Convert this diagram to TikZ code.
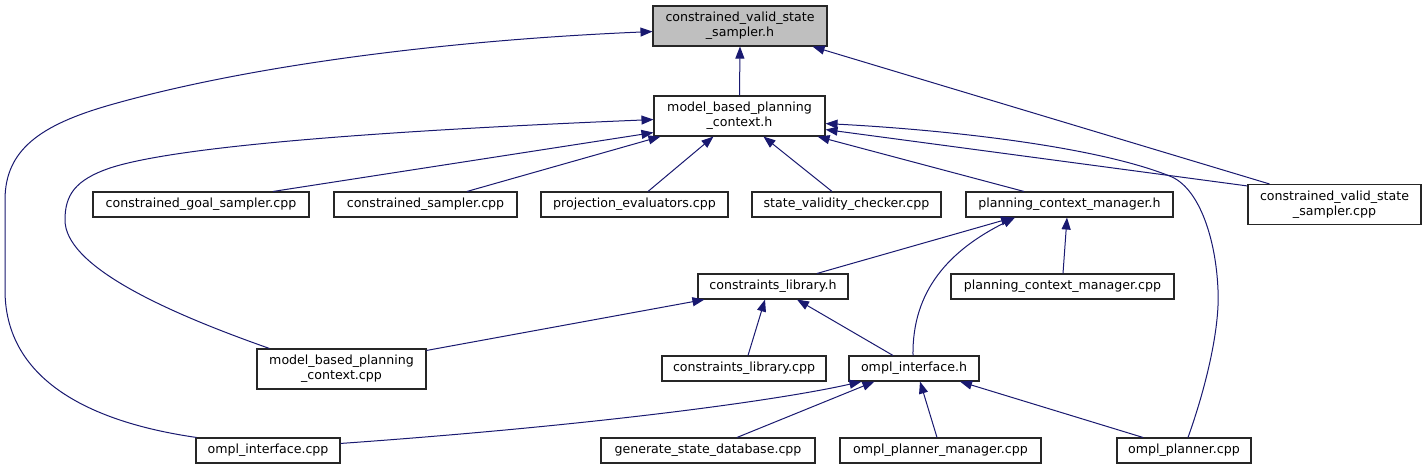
\documentclass[tikz,border=0pt]{standalone}
\usepackage{fontspec}
\setmainfont{DejaVu Sans}
\usetikzlibrary{arrows.meta}
\definecolor{edgecol}{HTML}{191970}
\definecolor{topfill}{HTML}{BFBFBF}
\begin{document}
\begin{tikzpicture}[x=1pt,y=-1pt,
  box/.style={draw=black!85, line width=1.1pt, fill=white, inner sep=0pt,
    font=\fontsize{12.6}{15}\selectfont, align=center, minimum height=25pt},
  box2/.style={box, minimum height=40pt},
  edge/.style={draw=edgecol, line width=1pt, -{Triangle[length=12pt,width=9pt]}}
]
\useasboundingbox (0,0) rectangle (1427,469);
\fill[white] (0,0) rectangle (1427,469);

\node[box2, fill=topfill, minimum width=174pt] (cvssh) at (740,26) {constrained\_valid\_state\\\_sampler.h};
\node[box2, minimum width=171pt] (mbpch) at (739.5,116) {model\_based\_planning\\\_context.h};
\node[box, minimum width=216pt] (cgs) at (201,204.5) {constrained\_goal\_sampler.cpp};
\node[box, minimum width=183pt] (cs) at (425.5,204.5) {constrained\_sampler.cpp};
\node[box, minimum width=187pt] (pe) at (634.5,204.5) {projection\_evaluators.cpp};
\node[box, minimum width=189pt] (svc) at (846.5,204.5) {state\_validity\_checker.cpp};
\node[box, minimum width=207pt] (pcmh) at (1069.5,204.5) {planning\_context\_manager.h};
\node[box2, minimum width=173pt] (cvsscpp) at (1334.5,204.5) {constrained\_valid\_state\\\_sampler.cpp};
\node[box, minimum width=150pt] (clh) at (773,286.5) {constraints\_library.h};
\node[box, minimum width=223pt] (pcmcpp) at (1062.5,286.5) {planning\_context\_manager.cpp};
\node[box2, minimum width=169pt] (mbpccpp) at (341.5,369) {model\_based\_planning\\\_context.cpp};
\node[box, minimum width=164pt] (clcpp) at (744,368.5) {constraints\_library.cpp};
\node[box, minimum width=130pt] (oih) at (914,368.5) {ompl\_interface.h};
\node[box, minimum width=144pt] (oicpp) at (268,450.5) {ompl\_interface.cpp};
\node[box, minimum width=214pt] (gsd) at (708,450.5) {generate\_state\_database.cpp};
\node[box, minimum width=201pt] (opm) at (940.5,450.5) {ompl\_planner\_manager.cpp};
\node[box, minimum width=134pt] (op) at (1184,450.5) {ompl\_planner.cpp};

% edges into constrained_valid_state_sampler.h
\draw[edge] (mbpch.north) -- (cvssh.south);
\draw[edge] ([xshift=22pt]cvsscpp.north west) -- ([xshift=-15pt]cvssh.south east);
\draw[edge] ([xshift=1pt]oicpp.north west) .. controls (110,425) and (5,390) .. (5,290)
   -- (5,200) .. controls (5,150) and (40,125) .. (110,105)
   .. controls (250,65) and (450,40) .. ([yshift=15pt]cvssh.south west);

% edges into model_based_planning_context.h
\draw[edge] ([xshift=13pt]mbpccpp.north west) .. controls (160,310) and (65,265) .. (65,220)
   .. controls (65,195) and (75,180) .. (110,168)
   .. controls (180,145) and (400,130) .. ([yshift=17pt]mbpch.south west);
\draw[edge] ([xshift=72pt]cgs.north) -- ([yshift=4pt]mbpch.south west);
\draw[edge] ([xshift=41.5pt]cs.north) -- ([xshift=7pt]mbpch.south west);
\draw[edge] ([xshift=13.5pt]pe.north) -- ([xshift=60pt]mbpch.south west);
\draw[edge] ([xshift=-14.5pt]svc.north) -- ([xshift=110pt]mbpch.south west);
\draw[edge] ([xshift=-45.5pt]pcmh.north) -- ([xshift=-8pt]mbpch.south east);
\draw[edge] ([yshift=-2pt]cvsscpp.north west) -- ([yshift=7pt]mbpch.south east);
\draw[edge] ([xshift=4pt]op.north) .. controls (1205,390) and (1220,330) .. (1218,290)
   .. controls (1216,240) and (1200,190) .. (1172,177)
   .. controls (1100,147) and (950,130) .. ([yshift=13pt]mbpch.south east);

% edges into planning_context_manager.h
\draw[edge] ([xshift=44pt]clh.north) -- ([xshift=-56.5pt]pcmh.south);
\draw[edge] ([xshift=-1pt]oih.north) .. controls (912,290) and (950,250) .. ([xshift=-54.5pt]pcmh.south);
\draw[edge] ([xshift=0.5pt]pcmcpp.north) -- ([xshift=-2.5pt]pcmh.south);

% edges into constraints_library.h
\draw[edge] ([yshift=-2pt]mbpccpp.north east) -- ([xshift=7pt]clh.south west);
\draw[edge] ([xshift=4pt]clcpp.north) -- ([xshift=-8pt]clh.south);
\draw[edge] ([xshift=-21pt]oih.north) -- ([xshift=24pt]clh.south);

% edges into ompl_interface.h
\draw[edge] ([yshift=-6pt]oicpp.north east) .. controls (600,425) and (780,400) .. ([xshift=13pt]oih.south west);
\draw[edge] ([xshift=29pt]gsd.north) -- ([xshift=26pt]oih.south west);
\draw[edge] ([xshift=-3.5pt]opm.north) -- ([xshift=6pt]oih.south);
\draw[edge] ([xshift=-41pt]op.north) -- ([xshift=46pt]oih.south);
\end{tikzpicture}
\end{document}
